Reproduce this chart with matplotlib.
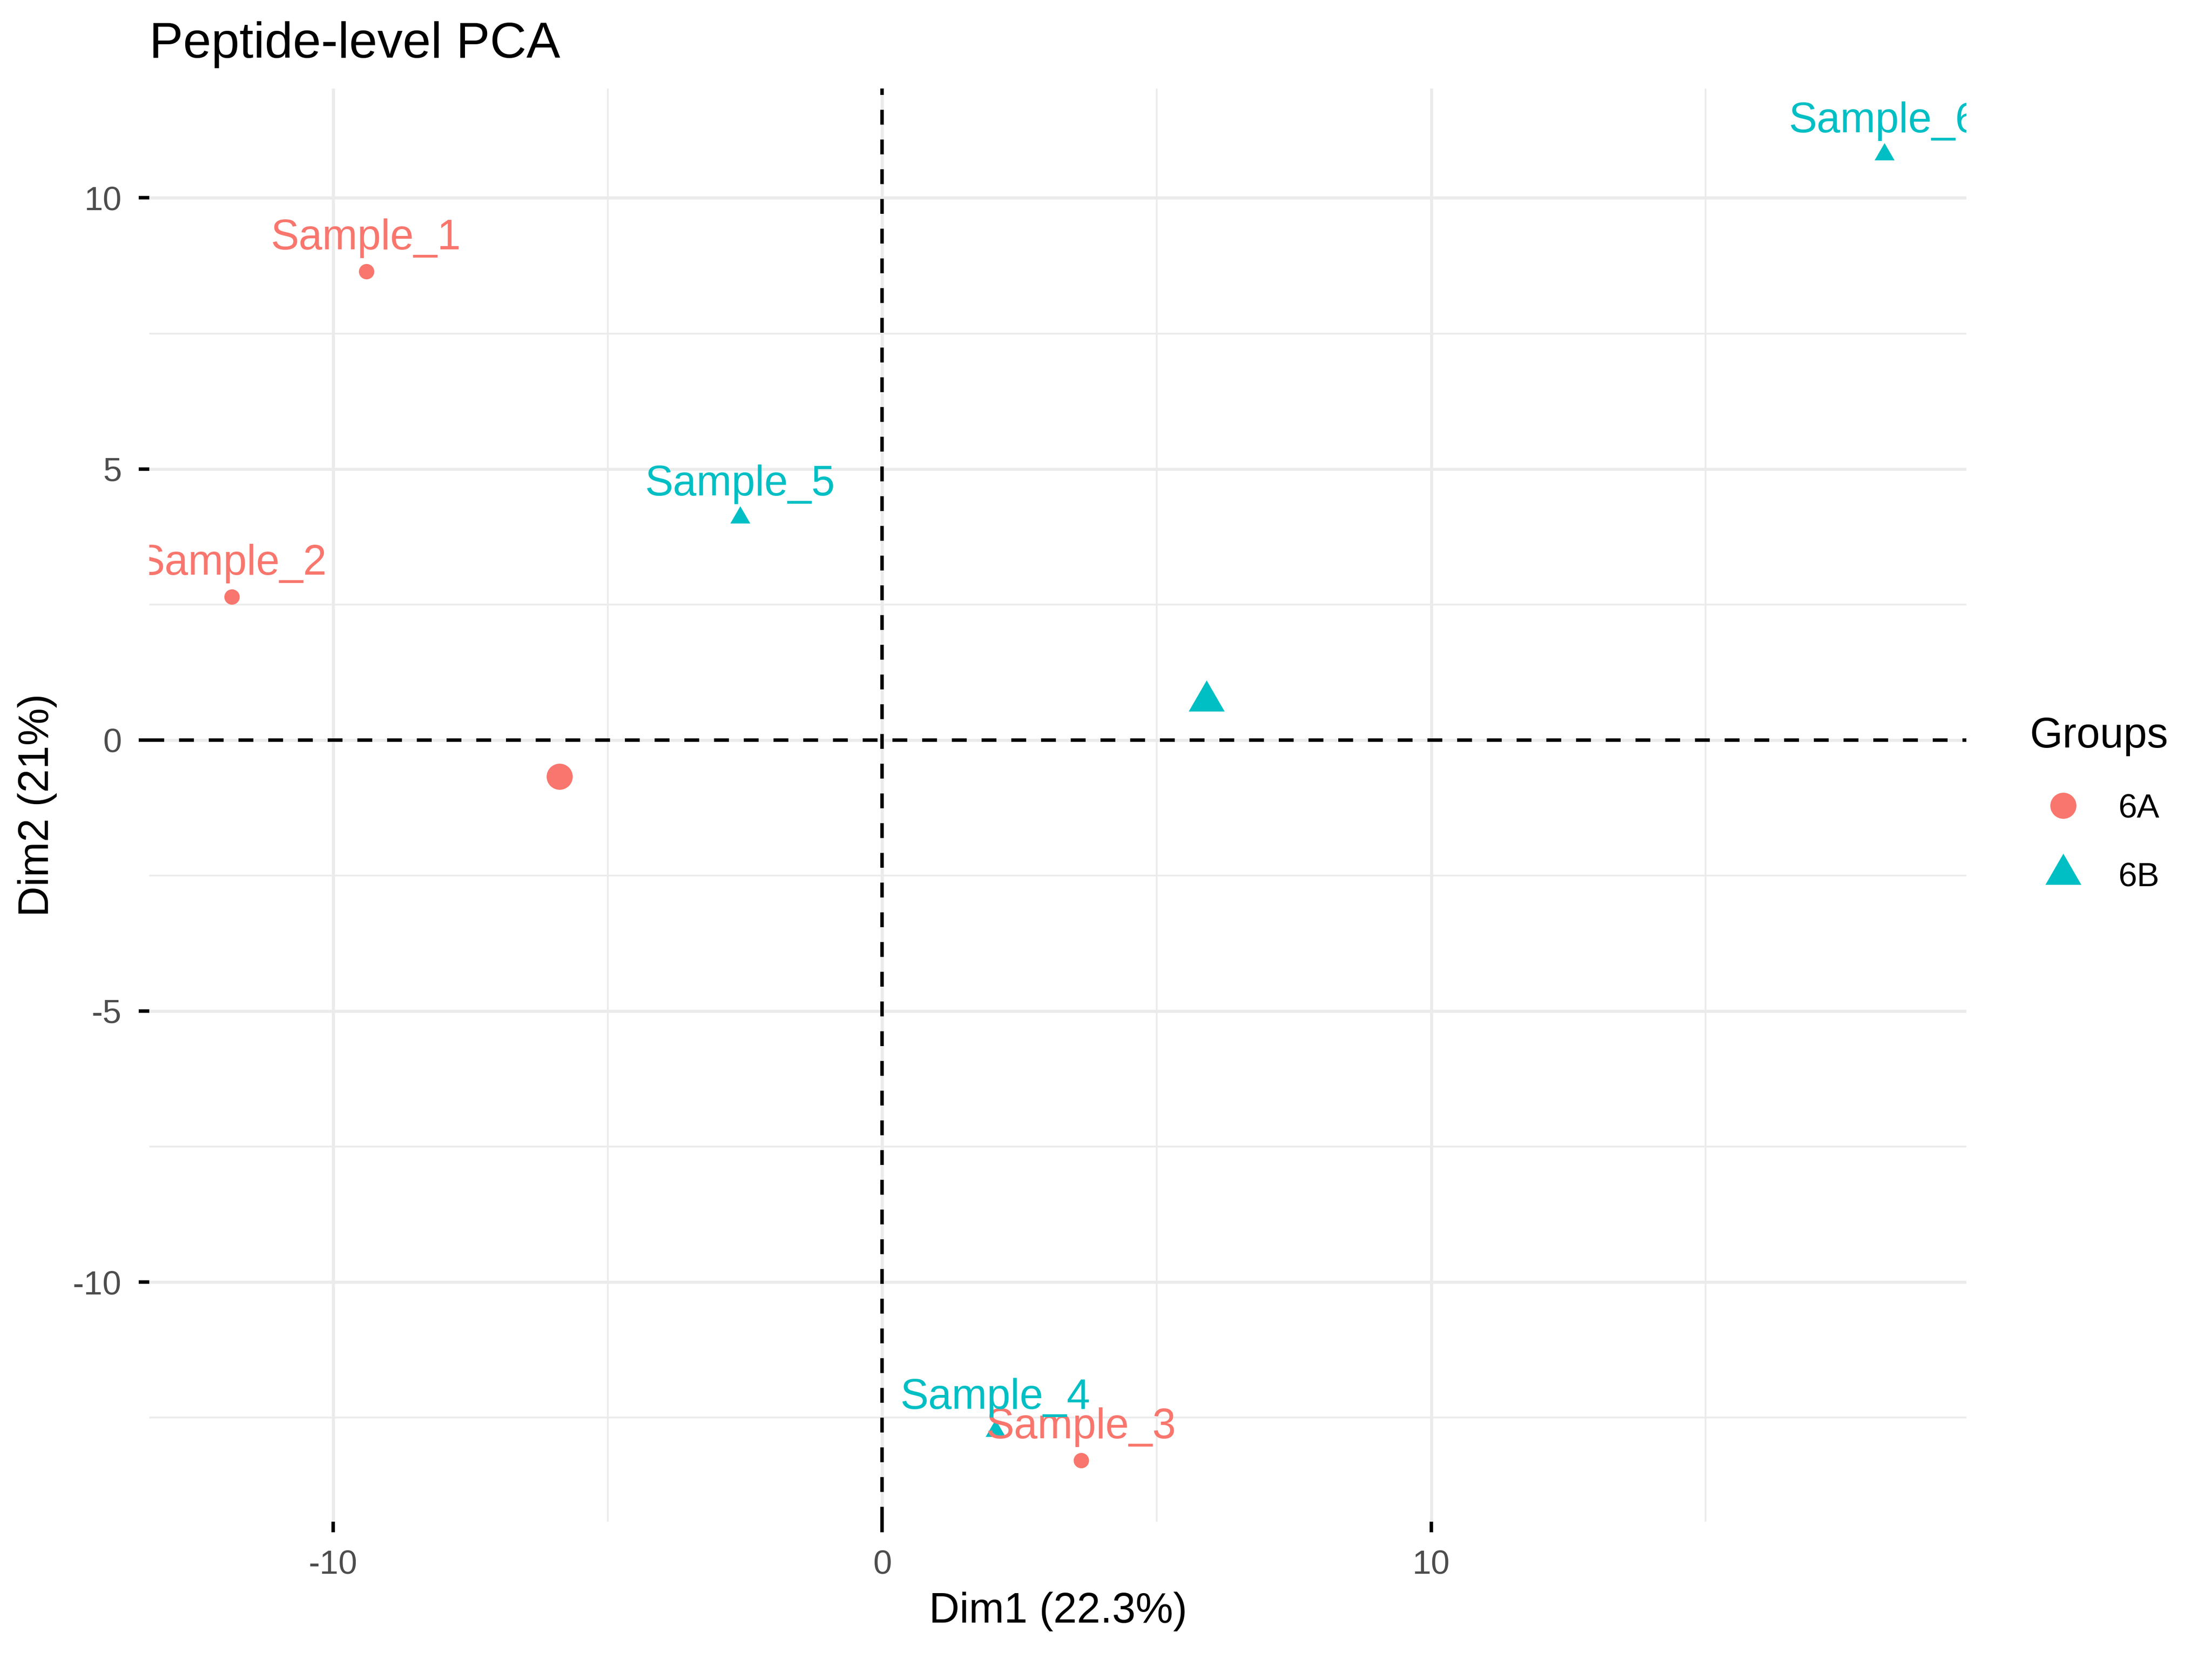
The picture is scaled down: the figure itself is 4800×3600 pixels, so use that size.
import matplotlib
matplotlib.use('Agg')
import matplotlib.pyplot as plt
import matplotlib.transforms as mtransforms
from matplotlib.lines import Line2D
import numpy as np

plt.rcParams['font.family'] = ['Liberation Sans', 'DejaVu Sans']
plt.rcParams['axes.unicode_minus'] = False

# PCA individual coordinates
samples = ['Sample_1', 'Sample_2', 'Sample_3', 'Sample_4', 'Sample_5', 'Sample_6']
groups = ['6A', '6A', '6A', '6B', '6B', '6B']
dim1 = [-9.40, -11.85, 3.62, 2.06, -2.59, 18.25]
dim2 = [8.64, 2.64, -13.29, -12.75, 4.10, 10.80]

group_names = ['6A', '6B']
group_colors = {'6A': '#F8766D', '6B': '#00BFC4'}
group_markers = {'6A': 'o', '6B': (3, 0, 0)}

dim1 = np.array(dim1)
dim2 = np.array(dim2)
groups = np.array(groups)

fig = plt.figure(figsize=(8, 6), dpi=600)
ax = fig.add_axes([0.0675, 0.0828, 0.889 - 0.0675, 0.9467 - 0.0828])

ax.set_xlim(-13.35, 19.75)
ax.set_ylim(-14.42, 12.02)

# grid
ax.set_xticks([-10, 0, 10])
ax.set_yticks([-10, -5, 0, 5, 10])
ax.set_xticks([-5, 5, 15], minor=True)
ax.set_yticks([-12.5, -7.5, -2.5, 2.5, 7.5], minor=True)
ax.grid(True, which='major', color='#EBEBEB', linewidth=0.8)
ax.grid(True, which='minor', color='#EBEBEB', linewidth=0.45)
ax.set_axisbelow(True)
for s in ax.spines.values():
    s.set_visible(False)
ax.tick_params(which='major', length=2.75, width=0.9, color='black',
               labelsize=8.8, labelcolor='#4D4D4D', pad=4.5)
ax.tick_params(which='minor', length=0)

# reference lines
ax.axhline(0, color='black', linewidth=0.9, linestyle=(0, (4.3, 4.3)), zorder=2)
ax.axvline(0, color='black', linewidth=0.9, linestyle=(0, (4.3, 4.3)), zorder=2)

# points
for g in group_names:
    m = groups == g
    ax.plot(dim1[m], dim2[m], linestyle='none', marker=group_markers[g],
            markersize=4.0 if g == '6A' else 6.0, color=group_colors[g],
            markeredgewidth=0, zorder=3)

# labels
offset = ax.transData + mtransforms.ScaledTranslation(0, 5.8 / 72, fig.dpi_scale_trans)
for name, g, x, y in zip(samples, groups, dim1, dim2):
    ax.text(x, y, name, transform=offset, ha='center', va='baseline',
            fontsize=11, color=group_colors[g], clip_on=True, zorder=4)

# group centroids
for g in group_names:
    m = groups == g
    ax.plot(dim1[m].mean(), dim2[m].mean(), linestyle='none', marker=group_markers[g],
            markersize=6.8 if g == '6A' else 10.8, color=group_colors[g],
            markeredgewidth=0, zorder=5)

ax.set_title('Peptide-level PCA', loc='left', fontsize=13.2, pad=8)
ax.set_xlabel('Dim1 (22.3%)', fontsize=11, labelpad=3)
ax.set_ylabel('Dim2 (21%)', fontsize=11, labelpad=4)

handles = [Line2D([], [], linestyle='none', marker=group_markers[g],
                  markersize=6.8 if g == '6A' else 10.8, color=group_colors[g],
                  markeredgewidth=0) for g in group_names]
leg = fig.legend(handles, group_names, title='Groups', loc='center left',
                 bbox_to_anchor=(4404 / 4800, 0.515), frameon=False,
                 fontsize=8.8, title_fontsize=11, handlelength=2.0,
                 handletextpad=0.62, labelspacing=1.11, alignment='left',
                 borderpad=0, borderaxespad=0)

fig.savefig('out.png', dpi=600)
